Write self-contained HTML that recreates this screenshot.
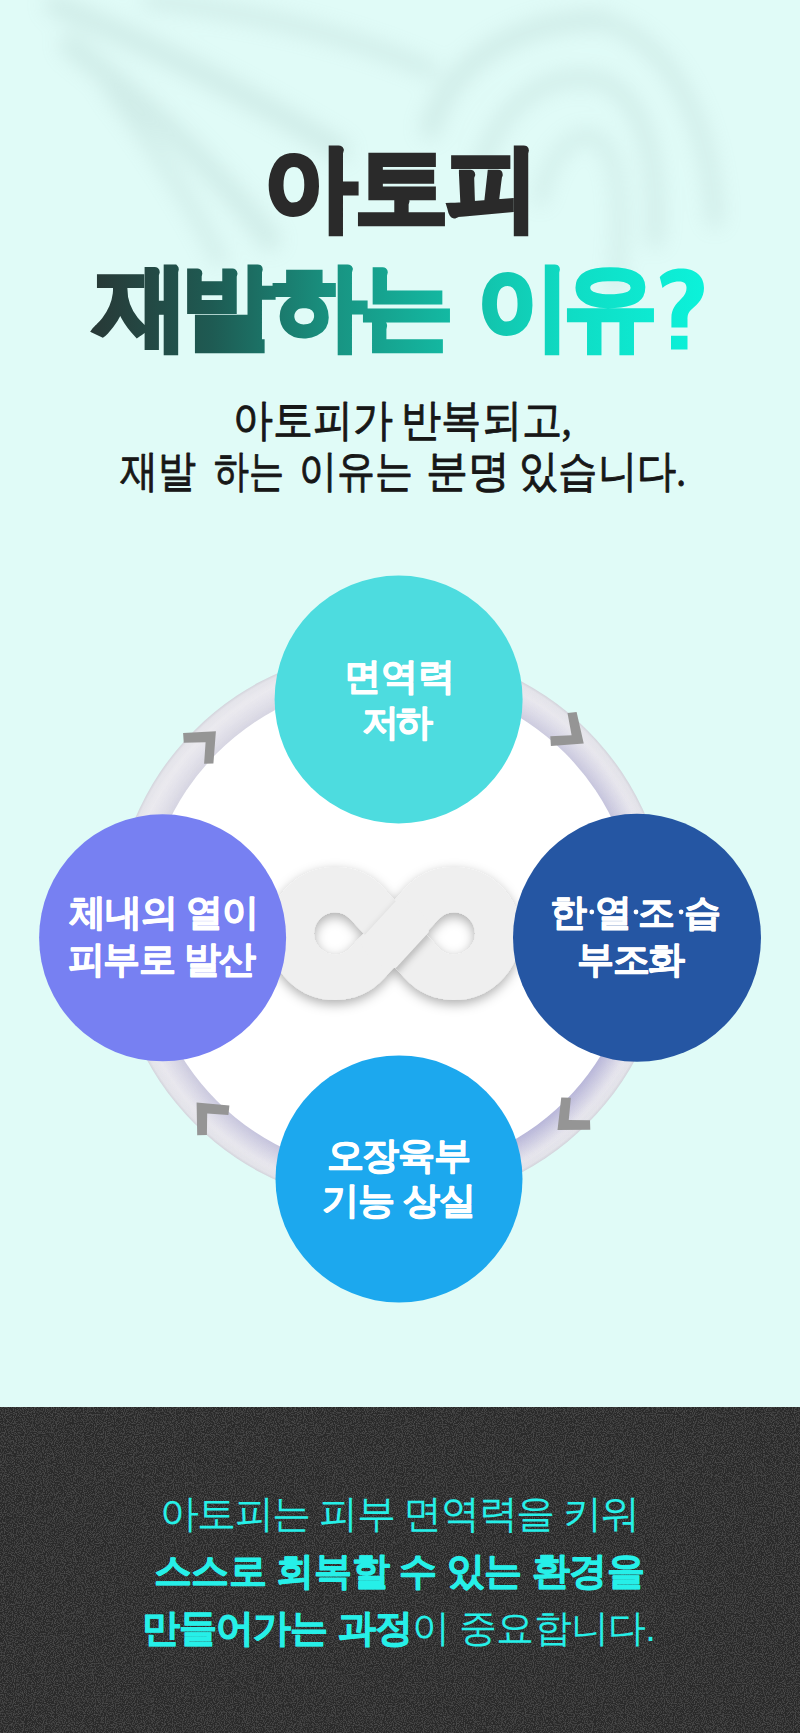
<!DOCTYPE html>
<html lang="ko">
<head>
<meta charset="utf-8">
<style>
html,body{margin:0;padding:0;}
body{width:800px;height:1733px;position:relative;overflow:hidden;background:#e0fbf7;font-family:"Liberation Sans",sans-serif;}
svg{position:absolute;left:0;top:0;overflow:visible;}
</style>
</head>
<body>
<svg width="800" height="1733" viewBox="0 0 800 1733">
  <defs>
    <filter id="blur" filterUnits="userSpaceOnUse" x="-100" y="-100" width="1000" height="600"><feGaussianBlur stdDeviation="10"/></filter>
    <linearGradient id="hg" gradientUnits="userSpaceOnUse" x1="90" y1="0" x2="704" y2="0">
      <stop offset="0" stop-color="#283836"/>
      <stop offset="0.2" stop-color="#1e5b53"/>
      <stop offset="0.4" stop-color="#189482"/>
      <stop offset="0.6" stop-color="#13bca5"/>
      <stop offset="0.78" stop-color="#0fdcc4"/>
      <stop offset="1" stop-color="#0cf2da"/>
    </linearGradient>
    <radialGradient id="ring" gradientUnits="userSpaceOnUse" cx="391" cy="927" r="278">
      <stop offset="0.885" stop-color="#d9d8e3"/>
      <stop offset="0.925" stop-color="#e4e3eb"/>
      <stop offset="0.96" stop-color="#ebeaef"/>
      <stop offset="0.99" stop-color="#e4e4ea"/>
      <stop offset="1" stop-color="#d3d3db"/>
    </radialGradient>
    <radialGradient id="ringp" gradientUnits="userSpaceOnUse" cx="391" cy="927" r="278">
      <stop offset="0.885" stop-color="#aeacd6" stop-opacity="0.85"/>
      <stop offset="0.93" stop-color="#b8b6da" stop-opacity="0.45"/>
      <stop offset="0.97" stop-color="#c8c6e0" stop-opacity="0.1"/>
      <stop offset="1" stop-color="#c8c6e0" stop-opacity="0"/>
    </radialGradient>
    <linearGradient id="ringm" gradientUnits="userSpaceOnUse" x1="190" y1="720" x2="600" y2="1140">
      <stop offset="0" stop-color="#fff" stop-opacity="0"/>
      <stop offset="0.45" stop-color="#fff" stop-opacity="0.35"/>
      <stop offset="1" stop-color="#fff" stop-opacity="1"/>
    </linearGradient>
    <mask id="ringmask" maskUnits="userSpaceOnUse" x="0" y="600" width="800" height="700"><rect x="0" y="600" width="800" height="700" fill="url(#ringm)"/></mask>
    <filter id="ishadow" filterUnits="userSpaceOnUse" x="240" y="820" width="320" height="230">
      <feDropShadow dx="0" dy="4" stdDeviation="6" flood-color="#000" flood-opacity="0.32"/>
    </filter>
    <filter id="sblur" filterUnits="userSpaceOnUse" x="300" y="840" width="200" height="190">
      <feGaussianBlur stdDeviation="3.5"/>
    </filter>
    <clipPath id="cross"><circle cx="394.5" cy="933.5" r="34.5"/></clipPath>
    <clipPath id="bsl"><polygon points="350.44,919.27 405.10,978.57 438.56,947.73 383.90,888.43"/></clipPath>
    <filter id="noise" filterUnits="userSpaceOnUse" x="0" y="1407" width="800" height="326">
      <feTurbulence type="fractalNoise" baseFrequency="0.9" numOctaves="2" seed="3"/>
      <feColorMatrix type="matrix" values="1.8 0 0 0 -0.86  1.8 0 0 0 -0.86  1.8 0 0 0 -0.86  0 0 0 0 0.17"/>
    </filter>
  </defs>

  <!-- leaf shadow -->
  <g filter="url(#blur)" fill="none" stroke="#93b3ae" stroke-linecap="round" opacity="0.2">
    <path d="M55 5 C 140 40, 240 90, 340 150" stroke-width="22"/>
    <path d="M70 45 C 140 100, 210 160, 270 240" stroke-width="22"/>
    <path d="M150 0 C 250 12, 350 35, 430 70" stroke-width="16"/>
    <path d="M110 90 C 150 140, 190 200, 220 260" stroke-width="14"/>
    <path d="M430 130 C 450 60, 520 20, 600 20" stroke-width="20"/>
    <path d="M600 20 C 670 40, 710 120, 715 220" stroke-width="16"/>
    <path d="M480 170 C 500 100, 550 70, 600 80 C 640 95, 660 150, 655 240" stroke-width="16"/>
    <path d="M540 200 C 550 150, 580 125, 600 140 C 620 160, 625 210, 615 290" stroke-width="13"/>
  </g>

  <!-- heading -->
  <g font-family="Liberation Sans" font-size="93" font-weight="700" stroke-width="5" stroke-linejoin="miter">
    <text y="219.3" fill="#2a2a2a" stroke="#2a2a2a"><tspan x="263.75">아</tspan><tspan x="355">토</tspan><tspan x="445.5">피</tspan></text>
    <text y="338" fill="url(#hg)" stroke="url(#hg)"><tspan x="94.8">재</tspan><tspan x="181">발</tspan><tspan x="273">하</tspan><tspan x="359.5">는</tspan><tspan x="476.75">이</tspan><tspan x="564">유</tspan></text>
  </g>
  <path fill="url(#hg)" d="M 659.75 277 C 666 271, 673 268.6, 681 268.6 C 695 268.6, 704 276, 704 288 C 704 298, 698 304, 692 309 C 688 312.5, 687.5 315, 687.5 320 L 687.5 327.5 L 671.4 327.5 L 671.4 318 C 671.4 309, 676 304, 681 299 C 685 295, 686.5 292, 686.5 287.5 C 686.5 283, 683 281.5, 679 281.5 C 673 281.5, 667 284, 662.5 288 Z M 671 335.75 H 687.5 V 349.6 H 671 Z"/>

  <text x="233.40" y="435.00" font-family="Liberation Serif" font-size="43.5" font-weight="400" fill="#171717" stroke="#171717" stroke-width="0.9" stroke-linejoin="round" textLength="159.80" lengthAdjust="spacingAndGlyphs">아토피가</text><text x="401.20" y="435.00" font-family="Liberation Serif" font-size="43.5" font-weight="400" fill="#171717" stroke="#171717" stroke-width="0.9" stroke-linejoin="round" textLength="170.60" lengthAdjust="spacingAndGlyphs">반복되고,</text>
  <text x="120.20" y="485.50" font-family="Liberation Serif" font-size="43.5" font-weight="400" fill="#171717" stroke="#171717" stroke-width="0.9" stroke-linejoin="round" textLength="76.00" lengthAdjust="spacingAndGlyphs">재발</text><text x="213.80" y="485.50" font-family="Liberation Serif" font-size="43.5" font-weight="400" fill="#171717" stroke="#171717" stroke-width="0.9" stroke-linejoin="round" textLength="70.00" lengthAdjust="spacingAndGlyphs">하는</text><text x="299.00" y="485.50" font-family="Liberation Serif" font-size="43.5" font-weight="400" fill="#171717" stroke="#171717" stroke-width="0.9" stroke-linejoin="round" textLength="114.00" lengthAdjust="spacingAndGlyphs">이유는</text><text x="426.00" y="485.50" font-family="Liberation Serif" font-size="43.5" font-weight="400" fill="#171717" stroke="#171717" stroke-width="0.9" stroke-linejoin="round" textLength="84.00" lengthAdjust="spacingAndGlyphs">분명</text><text x="519.00" y="485.50" font-family="Liberation Serif" font-size="43.5" font-weight="400" fill="#171717" stroke="#171717" stroke-width="0.9" stroke-linejoin="round" textLength="167.00" lengthAdjust="spacingAndGlyphs">있습니다.</text>

  <!-- diagram -->
  <circle cx="391" cy="927" r="278" fill="url(#ring)"/>
  <circle cx="391" cy="927" r="278" fill="url(#ringp)" mask="url(#ringmask)"/>
  <circle cx="391" cy="927" r="246" fill="#ffffff"/>
  <g filter="url(#ishadow)">
    <path d="M 367.17 963.15 L 421.83 903.85 A 43.75 43.75 0 1 1 421.83 963.15 L 367.17 903.85 A 43.75 43.75 0 1 0 367.17 963.15 Z" fill="none" stroke="#efefef" stroke-width="45.5"/>
  </g>
  <g clip-path="url(#bsl)">
    <path filter="url(#sblur)" d="M 331 1005 L 458 867" stroke="#000" stroke-opacity="0.22" stroke-width="47" transform="translate(1.5,3)"/>
  </g>
  <path d="M 331 1005 L 458 867" stroke="#efefef" stroke-width="45.5" clip-path="url(#cross)"/>
  <g fill="#959595">
    <polygon points="183.1,733.1 215.9,731.25 213.4,763.4 204.1,763.75 205.6,742.2 183.75,742.8"/>
    <polygon points="567.5,713.1 576.6,711.9 583.75,743.4 550.9,745.9 550.3,736.25 571.6,735.3"/>
    <polygon points="196.6,1102.5 229.4,1105.6 228.4,1115 207.2,1113.4 206.9,1135 197.2,1135.3"/>
    <polygon points="561.25,1097.5 570.9,1097.8 568.75,1120 590,1120.3 590.3,1129.7 557.5,1130"/>
  </g>

  <circle cx="398.6" cy="699.5" r="124" fill="#4ddcdf"/>
  <circle cx="637" cy="937.8" r="124" fill="#2556a3"/>
  <circle cx="162.6" cy="937.8" r="123.5" fill="#7780f2"/>
  <circle cx="399" cy="1179" r="123.5" fill="#1ca8ee"/>
  <text x="343.50" y="688.50" font-family="Liberation Sans" font-size="37" font-weight="700" fill="#ffffff" stroke="#ffffff" stroke-width="0.8" stroke-linejoin="round" textLength="111.25" lengthAdjust="spacing">면역력</text>
  <text x="362.25" y="735.03" font-family="Liberation Sans" font-size="37" font-weight="700" fill="#ffffff" stroke="#ffffff" stroke-width="0.8" stroke-linejoin="round" textLength="71.00" lengthAdjust="spacing">저하</text>
  <text x="549.60" y="925.00" font-family="Liberation Sans" font-size="37" font-weight="700" fill="#ffffff" stroke="#ffffff" stroke-width="0.8" stroke-linejoin="round"><tspan x="549.9">한</tspan><tspan x="595">열</tspan><tspan x="637.8">조</tspan><tspan x="683.9">습</tspan></text>
  <g fill="#ffffff"><circle cx="591.8" cy="912" r="2.4"/><circle cx="636" cy="912" r="2.4"/><circle cx="681.1" cy="912" r="2.4"/></g>
  <text x="577.40" y="972.45" font-family="Liberation Sans" font-size="37" font-weight="700" fill="#ffffff" stroke="#ffffff" stroke-width="0.8" stroke-linejoin="round" textLength="107.90" lengthAdjust="spacing">부조화</text>
  <text x="68.75" y="925.38" font-family="Liberation Sans" font-size="37" font-weight="700" fill="#ffffff" stroke="#ffffff" stroke-width="0.8" stroke-linejoin="round" textLength="190.25" lengthAdjust="spacing">체내의 열이</text>
  <text x="67.75" y="972.12" font-family="Liberation Sans" font-size="37" font-weight="700" fill="#ffffff" stroke="#ffffff" stroke-width="0.8" stroke-linejoin="round" textLength="188.50" lengthAdjust="spacing">피부로 발산</text>
  <text x="326.70" y="1167.50" font-family="Liberation Sans" font-size="37" font-weight="700" fill="#ffffff" stroke="#ffffff" stroke-width="0.8" stroke-linejoin="round" textLength="144.05" lengthAdjust="spacing">오장육부</text>
  <text x="322.20" y="1213.00" font-family="Liberation Sans" font-size="37" font-weight="700" fill="#ffffff" stroke="#ffffff" stroke-width="0.8" stroke-linejoin="round" textLength="153.50" lengthAdjust="spacing">기능 상실</text>

  <!-- dark -->
  <rect x="0" y="1407" width="800" height="326" fill="#333333"/>
  <rect x="0" y="1407" width="800" height="326" filter="url(#noise)"/>
  <text x="159.50" y="1526.65" font-family="Liberation Sans" font-size="38.5" font-weight="400" fill="#26efe8" textLength="480.10" lengthAdjust="spacing">아토피는 피부 면역력을 키워</text>
  <text x="153.75" y="1583.50" font-family="Liberation Sans" font-size="37.5" font-weight="700" fill="#26efe8" stroke="#26efe8" stroke-width="0.8" stroke-linejoin="round" textLength="491.05" lengthAdjust="spacing">스스로 회복할 수 있는 환경을</text>
  <text x="141.50" y="1641.00" font-family="Liberation Sans" font-size="38" font-weight="400" fill="#26efe8" textLength="514.40" lengthAdjust="spacing"><tspan font-weight="700" stroke="#26efe8" stroke-width="0.8">만들어가는 과정</tspan>이 중요합니다.</text>
</svg>
</body>
</html>
